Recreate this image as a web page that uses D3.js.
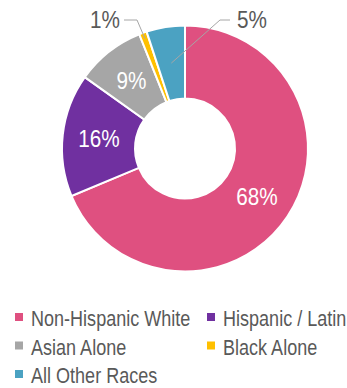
<!DOCTYPE html>
<html>
<head>
<meta charset="utf-8">
<script src="https://cdn.jsdelivr.net/npm/d3@7"></script>
<style>
  html, body { margin: 0; padding: 0; background: #fff; }
  svg { display: block; }
  text { font-family: "Liberation Sans", Arial, sans-serif; }
</style>
</head>
<body>
<svg id="chart" width="347" height="388"></svg>
<script>
// Population share by race / ethnicity
const categories = ["Non-Hispanic White", "Hispanic / Latin", "Asian Alone", "Black Alone", "All Other Races"];
const shares = [68, 16, 9, 1, 5];
const valueLabels = ["68%", "16%", "9%", "1%", "5%"];
const colors = ["#DF5080", "#7030A0", "#A6A6A6", "#FFC000", "#4BA2C2"];

const svg = d3.select("#chart");
const cx = 185, cy = 148.5, rOuter = 123, rInner = 50;
// condensed look: squeeze glyphs horizontally
const squeezeLabel = 0.9, squeezeLegend = 0.82;

const data = categories.map((c, i) => ({ name: c, value: shares[i], label: valueLabels[i], color: colors[i] }));

const pie = d3.pie().value(d => d.value).sort(null);
const arcs = pie(data);
const arc = d3.arc().innerRadius(rInner).outerRadius(rOuter);

const g = svg.append("g").attr("transform", `translate(${cx},${cy})`);

g.selectAll("path.slice")
  .data(arcs)
  .join("path")
  .attr("class", "slice")
  .attr("d", arc)
  .attr("fill", d => d.data.color)
  .attr("stroke", "#fff")
  .attr("stroke-width", 2)
  .attr("stroke-linejoin", "miter");

// Labels inside the large slices
const inside = arcs.filter(d => d.data.value >= 9);
g.selectAll("text.inside")
  .data(inside)
  .join("text")
  .attr("class", "inside")
  .attr("transform", d => `translate(${arc.centroid(d)}) scale(${squeezeLabel},1)`)
  .attr("text-anchor", "middle")
  .attr("dy", "0.36em")
  .attr("fill", "#fff")
  .attr("font-size", 23)
  .text(d => d.data.label);

// Callout labels for the small slices
const callouts = [
  { idx: 3, r: 117, elbow: [-48, -128.5], end: [-61, -128.5], anchor: "end" },
  { idx: 4, r: 86.5, elbow: [35, -128.5], end: [45, -128.5], anchor: "start" }
];
callouts.forEach(c => {
  const a = arcs[c.idx];
  const tip = d3.arc().innerRadius(c.r).outerRadius(c.r).centroid(a);
  g.append("path")
    .attr("d", d3.line()([tip, c.elbow, c.end]))
    .attr("fill", "none")
    .attr("stroke", "#A6A6A6")
    .attr("stroke-width", 1);
  const tx = c.end[0] + (c.anchor === "end" ? -4 : 7);
  g.append("text")
    .attr("transform", `translate(${tx},${c.end[1]}) scale(${squeezeLabel},1)`)
    .attr("dy", "0.36em")
    .attr("text-anchor", c.anchor)
    .attr("fill", "#595959")
    .attr("font-size", 23)
    .text(a.data.label);
});

// Legend: two columns, filled row by row
const legend = svg.append("g");
const colX = [15, 207], rowY = [326, 354.5, 383];
const items = legend.selectAll("g.item")
  .data(data)
  .join("g")
  .attr("class", "item")
  .attr("transform", (d, i) => `translate(${colX[i % 2]},${rowY[Math.floor(i / 2)]})`);
items.append("rect")
  .attr("x", 0).attr("y", -13)
  .attr("width", 8).attr("height", 8)
  .attr("fill", d => d.color);
items.append("text")
  .attr("transform", `translate(16,0) scale(${squeezeLegend},1)`)
  .attr("fill", "#595959")
  .attr("font-size", 22)
  .text(d => d.name);
</script>
</body>
</html>
